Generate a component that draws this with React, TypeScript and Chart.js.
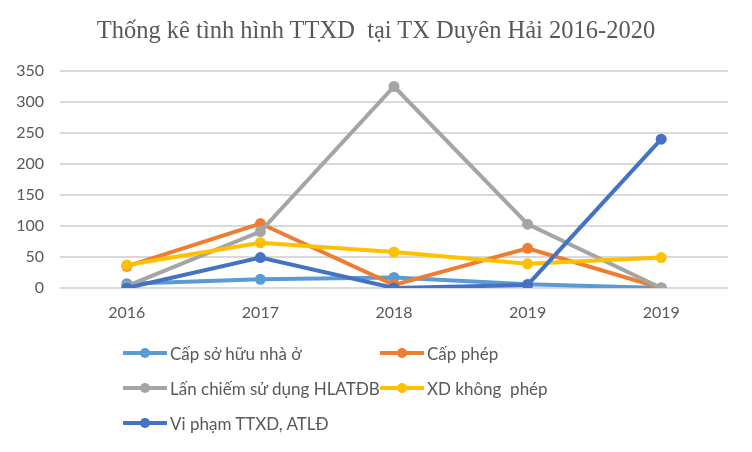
import { useEffect, useRef } from 'react';
import { Chart, registerables } from 'chart.js';

Chart.register(...registerables);

const years = ['2016', '2017', '2018', '2019', '2019'];
const yTicks = [0, 50, 100, 150, 200, 250, 300, 350];

const seriesNames = [
  'Cấp sở hữu nhà ở',
  'Cấp phép',
  'Lấn chiếm sử dụng HLATĐB',
  'XD không  phép',
  'Vi phạm TTXD, ATLĐ',
];
const seriesColors = ['#5B9BD5', '#ED7D31', '#A5A5A5', '#FFC000', '#4472C4'];

const capSoHuu = [7, 14, 17, 6, 0];
const capPhep = [35, 104, 5, 64, 0];
const lanChiem = [3, 91, 325, 103, 0];
const xdKhongPhep = [37, 73, 58, 39, 49];
const viPham = [0, 49, 0, 5, 240];

const seriesValues = [capSoHuu, capPhep, lanChiem, xdKhongPhep, viPham];

const textColor = '#595959';
const tickFont = 'Lato, "Open Sans", sans-serif';

function LegendItem({ name, color }: { name: string; color: string }) {
  return (
    <div style={{ display: 'flex', alignItems: 'center', height: 24 }}>
      <svg width={44} height={14} style={{ marginRight: 3 }}>
        <line x1={1} y1={7} x2={43} y2={7} stroke={color} strokeWidth={4} strokeLinecap="round" />
        <circle cx={22} cy={7} r={5} fill={color} />
      </svg>
      <span style={{ whiteSpace: 'pre', fontSize: 17, color: textColor, fontFamily: tickFont }}>{name}</span>
    </div>
  );
}

export default function App() {
  const canvasRef = useRef<HTMLCanvasElement>(null);
  const chartRef = useRef<Chart | null>(null);

  useEffect(() => {
    if (!canvasRef.current) return;
    const ctx = canvasRef.current.getContext('2d');
    if (!ctx) return;

    chartRef.current = new Chart(ctx, {
      type: 'line',
      data: {
        labels: years,
        datasets: seriesValues.map((values, i) => ({
          label: seriesNames[i],
          data: values,
          borderColor: seriesColors[i],
          backgroundColor: seriesColors[i],
          borderWidth: 4,
          pointRadius: 5.5,
          pointHoverRadius: 5.5,
          pointBorderWidth: 0,
          tension: 0,
          order: seriesValues.length - 1 - i,
        })),
      },
      options: {
        responsive: false,
        maintainAspectRatio: false,
        animation: false,
        layout: { padding: { top: 71, right: 24, bottom: 0, left: 0 } },
        plugins: {
          legend: { display: false },
          title: { display: false },
          tooltip: { enabled: false },
        },
        scales: {
          x: {
            offset: true,
            grid: { display: false },
            border: { display: false },
            ticks: { color: textColor, font: { family: tickFont, size: 16 }, padding: 7 },
            afterFit: (s: any) => {
              s.height = 164;
            },
          },
          y: {
            min: 0,
            max: 350,
            afterBuildTicks: (s: any) => {
              s.ticks = yTicks.map((v) => ({ value: v }));
            },
            grid: { color: '#D9D9D9', lineWidth: 2, drawTicks: false },
            border: { display: false },
            ticks: { color: textColor, font: { family: tickFont, size: 16 }, padding: 16 },
            afterFit: (s: any) => {
              s.width = 60;
            },
          },
        },
      },
    });

    return () => {
      chartRef.current?.destroy();
      chartRef.current = null;
    };
  }, []);

  return (
    <div
      style={{
        position: 'relative',
        width: 752,
        height: 452,
        margin: -8,
        boxSizing: 'border-box',
        border: '1px solid #D9D9D9',
        background: '#fff',
      }}
    >
      <canvas ref={canvasRef} width={752} height={452} style={{ position: 'absolute', left: -1, top: -1 }} />
      <div
        style={{
          position: 'absolute',
          left: 0,
          right: 0,
          top: 15,
          textAlign: 'center',
          whiteSpace: 'pre',
          fontFamily: '"Liberation Serif", "Times New Roman", serif',
          fontSize: 24.5,
          color: textColor,
        }}
      >
        {'Thống kê tình hình TTXD  tại TX Duyên Hải 2016-2020'}
      </div>
      <div style={{ position: 'absolute', left: 122, top: 340 }}>
        <div style={{ display: 'grid', gridTemplateColumns: '257px auto', rowGap: 11 }}>
          {seriesNames.map((n, i) => (
            <LegendItem key={n} name={n} color={seriesColors[i]} />
          ))}
        </div>
      </div>
    </div>
  );
}
